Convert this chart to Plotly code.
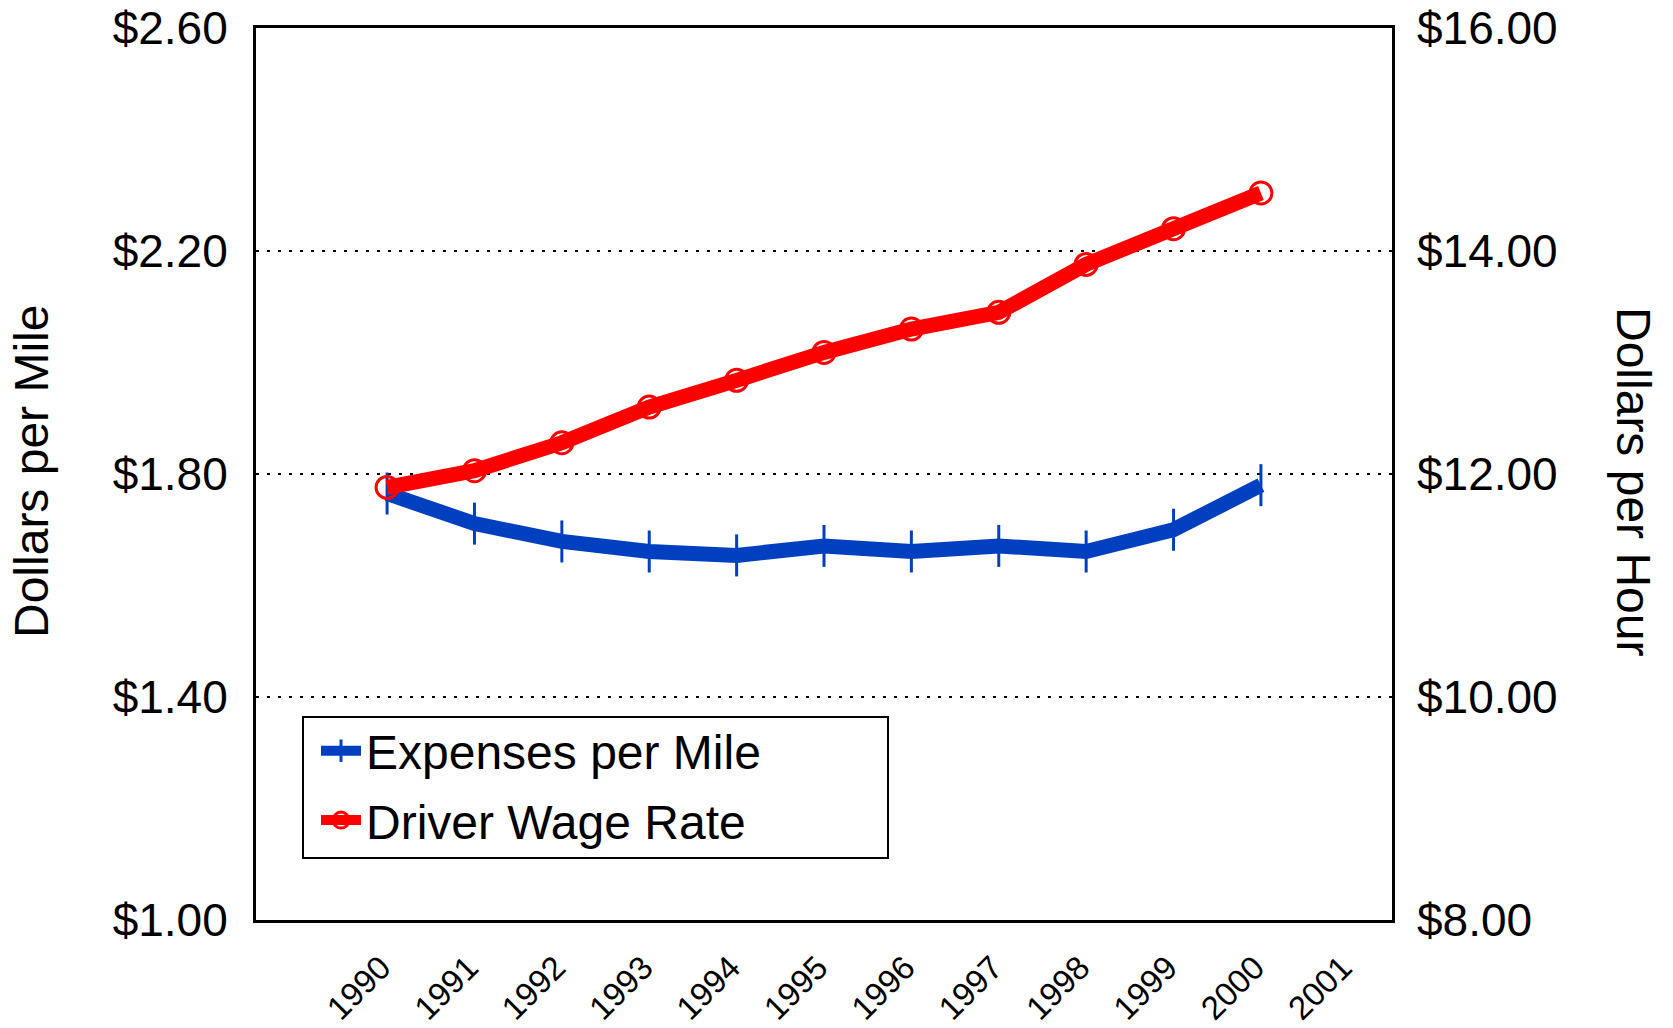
import plotly.graph_objects as go

years = [1990, 1991, 1992, 1993, 1994, 1995, 1996, 1997, 1998, 1999, 2000]
tick_years = [1990, 1991, 1992, 1993, 1994, 1995, 1996, 1997, 1998, 1999, 2000, 2001]
expenses_per_mile = [1.765, 1.711, 1.679, 1.661, 1.654, 1.671, 1.661, 1.671, 1.661, 1.700, 1.780]
driver_wage_rate = [11.88, 12.03, 12.28, 12.60, 12.84, 13.09, 13.30, 13.45, 13.88, 14.20, 14.52]

BLUE = "#0040C0"
RED = "#FF0000"
FONT = "Liberation Sans, Arial, sans-serif"

W, H = 1673, 1028
L, R, T, B = 256, 281, 28, 108
PW, PH = W - L - R, H - T - B


def px_x(x):
    return (x - L) / PW


def px_y(y):
    return (H - B - y) / PH


fig = go.Figure()
fig.add_trace(go.Scatter(
    x=years, y=expenses_per_mile, name="Expenses per Mile", legendgroup="a",
    mode="lines+markers",
    line=dict(color=BLUE, width=15),
    marker=dict(symbol="line-ns-open", size=30, color=BLUE, line=dict(color=BLUE, width=3)),
    yaxis="y",
))
fig.add_trace(go.Scatter(
    x=years, y=driver_wage_rate, name="Driver Wage Rate", legendgroup="b",
    mode="lines+markers",
    line=dict(color=RED, width=15),
    marker=dict(symbol="circle-open", size=22, color=RED, line=dict(color=RED, width=3)),
    yaxis="y2",
))

fig.update_layout(
    width=W, height=H,
    margin=dict(l=L, r=R, t=T, b=B),
    paper_bgcolor="white", plot_bgcolor="white",
    font=dict(family=FONT, size=46, color="black"),
    showlegend=True,
    legend=dict(
        x=px_x(316), y=px_y(713), xanchor="left", yanchor="top",
        borderwidth=0, bgcolor="rgba(0,0,0,0)",
        font=dict(size=48), tracegroupgap=4, itemwidth=40,
        traceorder="grouped",
    ),
    shapes=[dict(
        type="rect", xref="paper", yref="paper",
        x0=px_x(303), x1=px_x(888), y0=px_y(858), y1=px_y(717),
        line=dict(color="black", width=2), fillcolor="white", layer="above",
    )],
    xaxis=dict(
        range=[1988.5, 2001.5], tickmode="array", tickvals=tick_years,
        ticktext=[str(y) for y in tick_years], tickangle=-45,
        tickfont=dict(size=33), showgrid=False, zeroline=False,
        showline=True, mirror=True, linecolor="black", linewidth=3,
        ticks="", ticklabelstandoff=12, ticklabelshift=-6, automargin=False,
        ticklabeloverflow="allow",
    ),
    yaxis=dict(
        range=[1.0, 2.6], dtick=0.4, tick0=1.0, tickformat="$.2f",
        showgrid=True, gridcolor="black", gridwidth=2, griddash="3px,8px",
        zeroline=False, showline=True, mirror=True, linecolor="black", linewidth=3,
        ticks="", ticklabelstandoff=16, tickfont=dict(size=46), automargin=False,
        ticklabeloverflow="allow",
    ),
    yaxis2=dict(
        range=[8, 16], dtick=2, tick0=8, tickformat="$.2f", overlaying="y", side="right",
        showgrid=False, zeroline=False, showline=False,
        ticks="", ticklabelstandoff=24, tickfont=dict(size=46), automargin=False,
        ticklabeloverflow="allow",
    ),
    annotations=[
        dict(text="Dollars per Mile", xref="paper", yref="paper",
             x=px_x(31), y=px_y(471), textangle=-90, showarrow=False,
             xanchor="center", yanchor="middle", font=dict(size=48)),
        dict(text="Dollars per Hour", xref="paper", yref="paper",
             x=px_x(1633), y=px_y(481), textangle=90, showarrow=False,
             xanchor="center", yanchor="middle", font=dict(size=48)),
    ],
)

fig.write_html("out.html", config={"displayModeBar": False},
               post_script="document.body.style.margin='0';")
